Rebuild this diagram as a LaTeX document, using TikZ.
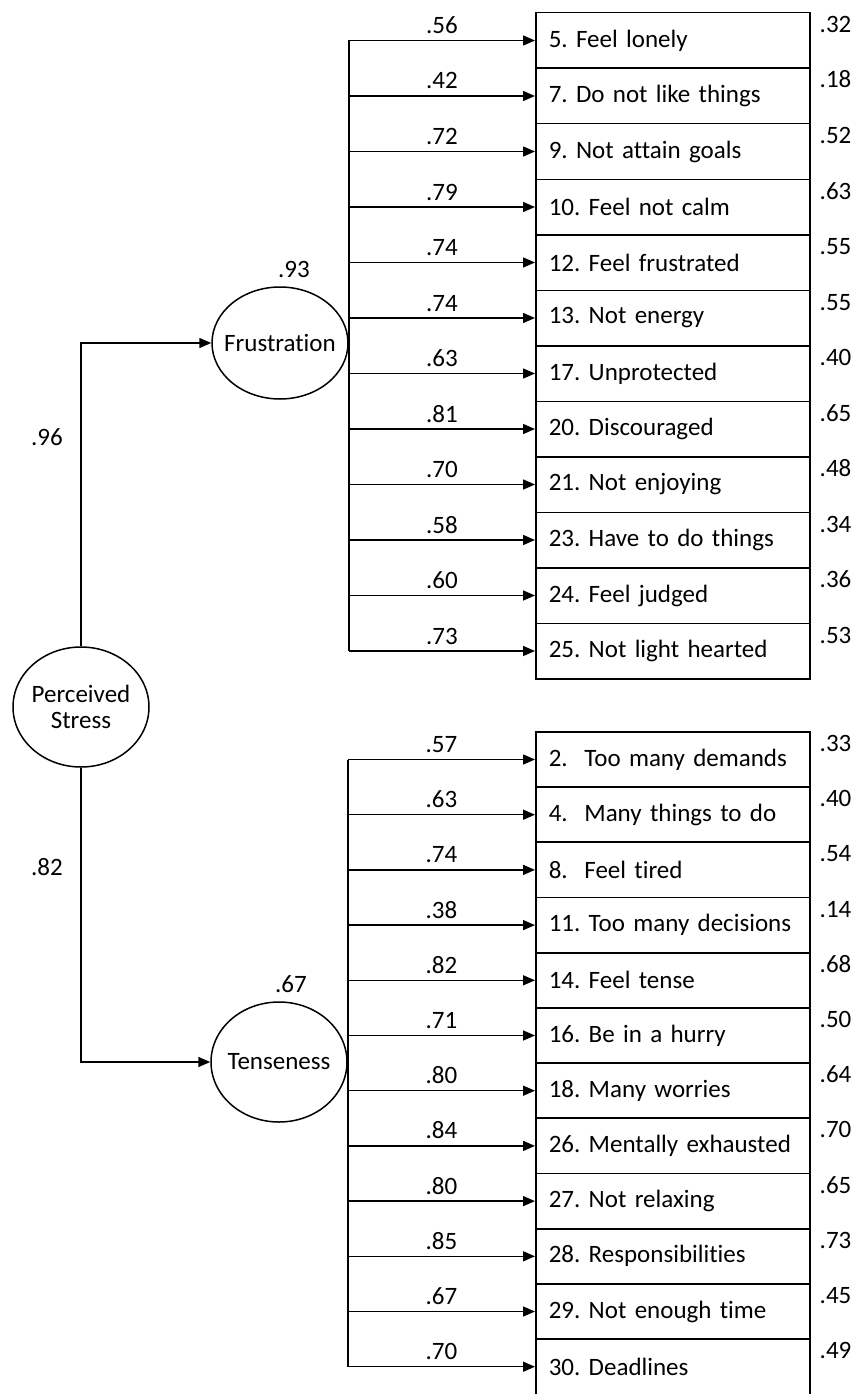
\documentclass[tikz,border=0pt]{standalone}
\usepackage{fontspec}
\setmainfont{Carlito}[Ligatures=NoCommon,WordSpace=0.75]
\usetikzlibrary{shapes.geometric,arrows.meta,calc}
\frenchspacing
\begin{document}
\begin{tikzpicture}[x=1pt,y=-1pt,
  every node/.style={font=\fontsize{25}{28}\selectfont},
  ln/.style={line width=1.5pt},
  arr/.style={line width=1.5pt,-{Triangle[length=12pt,width=10pt]}},
  itembox/.style={draw,line width=1.5pt,anchor=north west,minimum width=274pt,minimum height=55.5pt,
     text width=248pt,inner xsep=13pt,inner ysep=0pt,align=left},
  latent/.style={draw,ellipse,line width=1.5pt,inner sep=0pt},
  lattext/.style={align=center,inner sep=0pt},
  coef/.style={anchor=base,inner sep=0pt},
  resid/.style={anchor=base west,inner sep=0pt}]
\useasboundingbox (0,0) rectangle (864,1394);

% latent variables
\node[latent,minimum width=136pt,minimum height=120pt] (PS) at (81,707) {};
\node[lattext] (PSt) at (PS) {Perceived\\[-2pt]Stress};
\node[latent,minimum width=136pt,minimum height=112pt] (F) at (280,343) {};
\node[lattext] (Ft) at (F) {Frustration};
\node[latent,minimum width=136pt,minimum height=120pt] (T) at (279,1062) {};
\node[lattext] (Tt) at (T) {Tenseness};

\draw[arr] (PS.north) |- (F.west);
\draw[arr] (PS.south) |- (T.west);
\node[coef] (l96) at (47,445) {.96};
\node[coef] (l82) at (47,875) {.82};
\node[coef] (l93) at ([xshift=14pt,yshift=9pt]F.north) {.93};
\node[coef] (l67) at ([xshift=12pt,yshift=9pt]T.north) {.67};

% Frustration items
\foreach [count=\i] \txt/\ld/\rs in {
  5. Feel lonely/.56/.32,
  7. Do not like things/.42/.18,
  9. Not attain goals/.72/.52,
  10. Feel not calm/.79/.63,
  12. Feel frustrated/.74/.55,
  13. Not energy/.74/.55,
  17. Unprotected/.63/.40,
  20. Discouraged/.81/.65,
  21. Not enjoying/.70/.48,
  23. Have to do things/.58/.34,
  24. Feel judged/.60/.36,
  25. Not light hearted/.73/.53}{
  \node[itembox] (f\i) at (535,{12+(\i-1)*55.5}) {\txt};
  \draw[arr] (F.east |- f\i.west) -- node[coef,midway,yshift=7pt] (fl\i) {\ld} (f\i.west);
  \node[resid] (fr\i) at ([xshift=9pt,yshift=8pt]f\i.east) {\rs};
}
\draw[ln] (F.east |- f1.west) -- (F.east |- f12.west);

% Tenseness items
\foreach [count=\i] \txt/\ld/\rs in {
  2.~~Too many demands/.57/.33,
  4.~~Many things to do/.63/.40,
  8.~~Feel tired/.74/.54,
  11. Too many decisions/.38/.14,
  14. Feel tense/.82/.68,
  16. Be in a hurry/.71/.50,
  18. Many worries/.80/.64,
  26. Mentally exhausted/.84/.70,
  27. Not relaxing/.80/.65,
  28. Responsibilities/.85/.73,
  29. Not enough time/.67/.45,
  30. Deadlines/.70/.49}{
  \node[itembox] (t\i) at (535,{731+(\i-1)*55.2}) {\txt};
  \draw[arr] (T.east |- t\i.west) -- node[coef,midway,yshift=7pt] (tl\i) {\ld} (t\i.west);
  \node[resid] (tr\i) at ([xshift=9pt,yshift=8pt]t\i.east) {\rs};
}
\draw[ln] (T.east |- t1.west) -- (T.east |- t12.west);
\end{tikzpicture}
\end{document}
